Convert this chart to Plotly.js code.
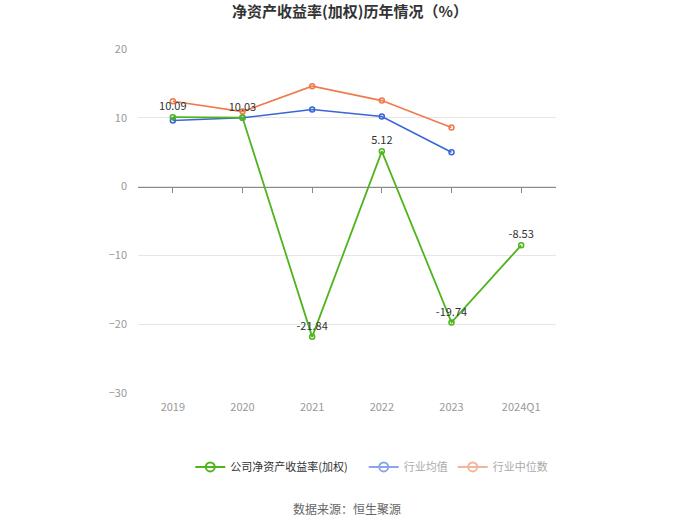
<!DOCTYPE html>
<html><head><meta charset="utf-8">
<script src="https://cdn.plot.ly/plotly-3.0.1.min.js"></script>
<style>body{margin:0;}#chart{width:700px;height:525px;}</style>
</head><body><div id="chart"></div>
<script>
const categories = ['2019','2020','2021','2022','2023','2024Q1'];
const companyROE = [10.09, 10.03, -21.84, 5.12, -19.74, -8.53];
const industryAvg = [9.6, 10.0, 11.2, 10.2, 5.0, null];
const industryMedian = [12.4, 10.9, 14.6, 12.5, 8.6, null];
const seriesNames = ['公司净资产收益率(加权)', '行业均值', '行业中位数'];

const font = '"Noto Sans CJK SC", "Noto Sans", sans-serif';
const green = '#4eb51c', blue = '#3966d6', orange = '#f07a4a';

const traces = [
  {x: categories, y: industryMedian, name: seriesNames[2], mode: 'lines+markers', showlegend: false,
   line: {color: orange, width: 1.6}, marker: {symbol: 'circle-open', size: 5, color: orange, line: {width: 1.5}}, cliponaxis: false},
  {x: categories, y: industryAvg, name: seriesNames[1], mode: 'lines+markers', showlegend: false,
   line: {color: blue, width: 1.6}, marker: {symbol: 'circle-open', size: 5, color: blue, line: {width: 1.5}}, cliponaxis: false},
  {x: categories, y: companyROE, name: seriesNames[0], mode: 'lines+markers+text', showlegend: false,
   text: companyROE.map(v => v.toFixed(2)), textposition: 'top center',
   textfont: {family: font, size: 11, color: '#333'},
   line: {color: green, width: 1.8}, marker: {symbol: 'circle-open', size: 5, color: green, line: {width: 1.5}}, cliponaxis: false},
  // legend entries
  {x: [null], y: [null], name: seriesNames[0], mode: 'lines+markers', legend: 'legend',
   line: {color: green, width: 2}, marker: {symbol: 'circle-open', size: 9, color: green, line: {width: 2}}},
  {x: [null], y: [null], name: seriesNames[1], mode: 'lines+markers', legend: 'legend2',
   line: {color: '#8aa6ea', width: 2}, marker: {symbol: 'circle-open', size: 9, color: '#8aa6ea', line: {width: 2}}},
  {x: [null], y: [null], name: seriesNames[2], mode: 'lines+markers', legend: 'legend2',
   line: {color: '#f4b49a', width: 2}, marker: {symbol: 'circle-open', size: 9, color: '#f4b49a', line: {width: 2}}},
  {x: [0], y: [null], xaxis: 'x2', showlegend: false, hoverinfo: 'skip'}
];

const layout = {
  width: 700, height: 525,
  margin: {l: 138, r: 144, t: 49, b: 132},
  paper_bgcolor: '#fff', plot_bgcolor: '#fff',
  font: {family: font, color: '#333'},
  title: {text: '净资产收益率(加权)历年情况（%）', x: 0.5, xanchor: 'center', y: 0.978, yanchor: 'middle',
          font: {family: font, size: 15, color: '#333', weight: 'bold'}},
  xaxis: {type: 'category', categoryarray: categories, range: [-0.5, 5.5], showgrid: false, zeroline: false,
          showline: false, ticks: '', tickfont: {size: 11, color: '#999'}, ticklabelstandoff: 6},
  xaxis2: {type: 'linear', overlaying: 'x', anchor: 'free', position: 0.6, range: [-0.5, 5.5],
           tick0: 0, dtick: 1, ticks: 'outside', ticklen: 5, tickcolor: '#888', showline: true, linecolor: '#888',
           linewidth: 1, showticklabels: false, showgrid: false, zeroline: false},
  yaxis: {range: [-30, 20], tick0: -30, dtick: 10, showgrid: true, gridcolor: '#e6e6e6', zeroline: false,
          showline: false, tickfont: {size: 11, color: '#999'}, ticklabelstandoff: 10},
  showlegend: true,
  legend: {orientation: 'h', x: 0.125, y: -0.215, xanchor: 'left', yanchor: 'middle',
           font: {family: font, size: 11, color: '#333'}, itemwidth: 30},
  legend2: {orientation: 'h', x: 0.54, y: -0.215, xanchor: 'left', yanchor: 'middle',
           font: {family: font, size: 11, color: '#aaa'}, itemwidth: 30},
  annotations: [{text: '数据来源：恒生聚源', xref: 'paper', yref: 'paper', x: 0.5, y: -0.335,
                 xanchor: 'center', yanchor: 'middle', showarrow: false, font: {family: font, size: 12, color: '#666'}}]
};

Plotly.newPlot('chart', traces, layout, {displayModeBar: false, staticPlot: true});
</script></body></html>
